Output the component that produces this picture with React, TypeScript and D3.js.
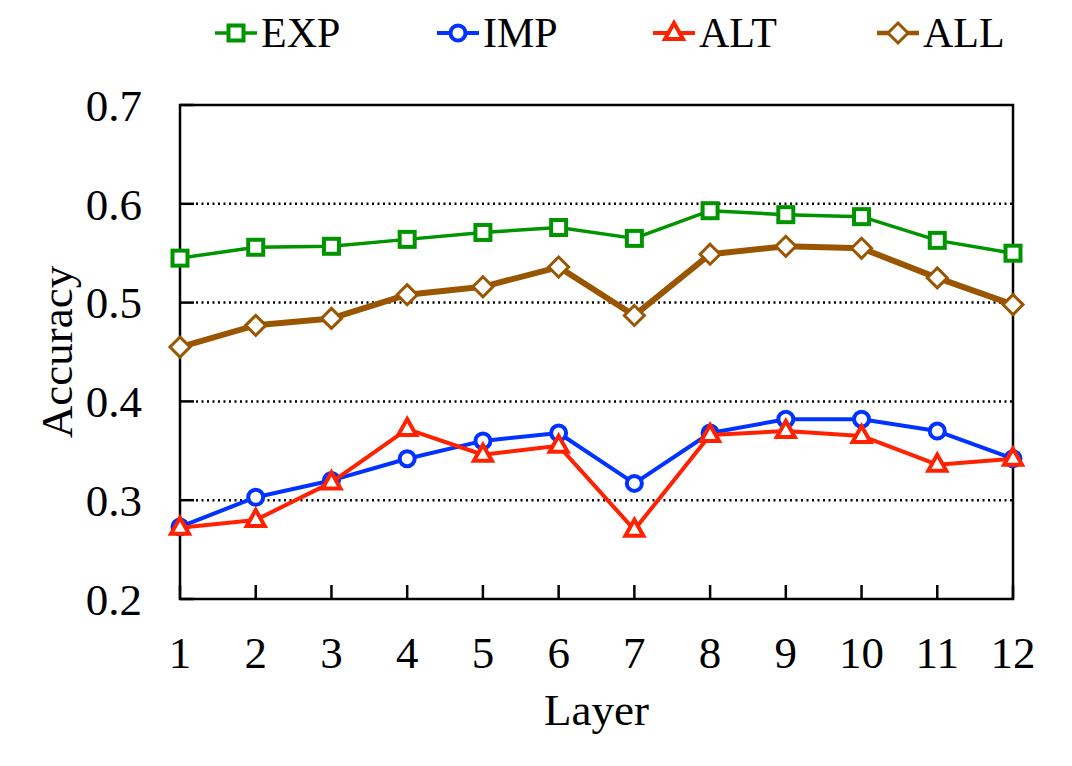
import React from 'react';
import * as d3 from 'd3';

const W = 1072;
const H = 766;
const M = { top: 105, right: 59, bottom: 167, left: 180 };

const LAYERS = [1, 2, 3, 4, 5, 6, 7, 8, 9, 10, 11, 12];
const Y_TICKS = [0.2, 0.3, 0.4, 0.5, 0.6, 0.7];

const EXP = [0.545, 0.556, 0.557, 0.564, 0.571, 0.576, 0.565, 0.593, 0.589, 0.587, 0.563, 0.550];
const IMP = [0.273, 0.303, 0.320, 0.342, 0.360, 0.368, 0.317, 0.368, 0.382, 0.382, 0.370, 0.342];
const ALT = [0.272, 0.280, 0.318, 0.372, 0.346, 0.355, 0.270, 0.366, 0.370, 0.365, 0.336, 0.342];
const ALL = [0.455, 0.477, 0.484, 0.508, 0.516, 0.536, 0.487, 0.549, 0.557, 0.555, 0.525, 0.498];

const SERIES = [
  { name: 'EXP', values: EXP, color: '#009400', width: 3.5, marker: 'square', legendX: 236 },
  { name: 'IMP', values: IMP, color: '#0033ff', width: 4, marker: 'circle', legendX: 458 },
  { name: 'ALT', values: ALT, color: '#ff2200', width: 4, marker: 'triangle', legendX: 674 },
  { name: 'ALL', values: ALL, color: '#9a5500', width: 6, marker: 'diamond', legendX: 898 },
];

const FONT = '"Liberation Serif", "DejaVu Serif", serif';

function Marker({ type, x, y, color }: { type: string; x: number; y: number; color: string }) {
  if (type === 'square') {
    return <rect x={x - 7.5} y={y - 7.5} width={15} height={15} fill="#fff" stroke={color} strokeWidth={4} />;
  }
  if (type === 'circle') {
    return <circle cx={x} cy={y} r={7.5} fill="#fff" stroke={color} strokeWidth={4} />;
  }
  if (type === 'triangle') {
    return (
      <path
        d={`M${x},${y - 10}L${x + 9},${y + 6}L${x - 9},${y + 6}Z`}
        fill="#fff"
        stroke={color}
        strokeWidth={4}
        strokeLinejoin="miter"
      />
    );
  }
  return (
    <path
      d={`M${x},${y - 10}L${x + 10},${y}L${x},${y + 10}L${x - 10},${y}Z`}
      fill="#fff"
      stroke={color}
      strokeWidth={3}
    />
  );
}

export default function App() {
  const iw = W - M.left - M.right;
  const ih = H - M.top - M.bottom;

  const x = d3.scaleLinear().domain([1, 12]).range([M.left, M.left + iw]);
  const y = d3.scaleLinear().domain([0.2, 0.7]).range([M.top + ih, M.top]);

  const line = d3
    .line<number>()
    .x((_, i) => x(LAYERS[i]))
    .y(d => y(d));

  const tickLen = 14;

  return (
    <svg
      width={W}
      height={H}
      style={{ position: 'absolute', left: 0, top: 0, background: '#fff' }}
      fontFamily={FONT}
    >
      {/* grid */}
      {Y_TICKS.filter(t => t > 0.2 && t < 0.7).map(t => (
        <line
          key={'g' + t}
          x1={M.left + tickLen + 2}
          x2={M.left + iw}
          y1={y(t)}
          y2={y(t)}
          stroke="#000"
          strokeWidth={2.5}
          strokeDasharray="2 3.5"
        />
      ))}

      {/* ticks */}
      {Y_TICKS.map(t => (
        <g key={'y' + t}>
          <line x1={M.left} x2={M.left + tickLen} y1={y(t)} y2={y(t)} stroke="#000" strokeWidth={2.5} />
          <text x={M.left - 38} y={y(t)} dy="0.35em" textAnchor="end" fontSize={45}>
            {d3.format('.1f')(t)}
          </text>
        </g>
      ))}
      {LAYERS.map(l => (
        <g key={'x' + l}>
          <line x1={x(l)} x2={x(l)} y1={M.top + ih} y2={M.top + ih - tickLen} stroke="#000" strokeWidth={2.5} />
          <text x={x(l)} y={668} textAnchor="middle" fontSize={45}>
            {l}
          </text>
        </g>
      ))}

      {/* frame */}
      <rect x={M.left} y={M.top} width={iw} height={ih} fill="none" stroke="#000" strokeWidth={2.5} />

      {/* axis titles */}
      <text x={M.left + iw / 2} y={725} textAnchor="middle" fontSize={45}>
        Layer
      </text>
      <text
        transform={`translate(72,${M.top + ih / 2}) rotate(-90)`}
        textAnchor="middle"
        fontSize={45}
      >
        Accuracy
      </text>

      {/* series */}
      {SERIES.map(s => (
        <g key={s.name}>
          <path d={line(s.values) || ''} fill="none" stroke={s.color} strokeWidth={s.width} strokeLinejoin="round" />
          {s.values.map((v, i) => (
            <Marker key={i} type={s.marker} x={x(LAYERS[i])} y={y(v)} color={s.color} />
          ))}
        </g>
      ))}

      {/* legend */}
      {SERIES.map(s => (
        <g key={'l' + s.name}>
          <line x1={s.legendX - 21} x2={s.legendX + 21} y1={33} y2={33} stroke={s.color} strokeWidth={s.width === 6 ? 4.5 : s.width} />
          <Marker type={s.marker} x={s.legendX} y={33} color={s.color} />
          <text x={s.legendX + 25} y={47} fontSize={42}>
            {s.name}
          </text>
        </g>
      ))}
    </svg>
  );
}
